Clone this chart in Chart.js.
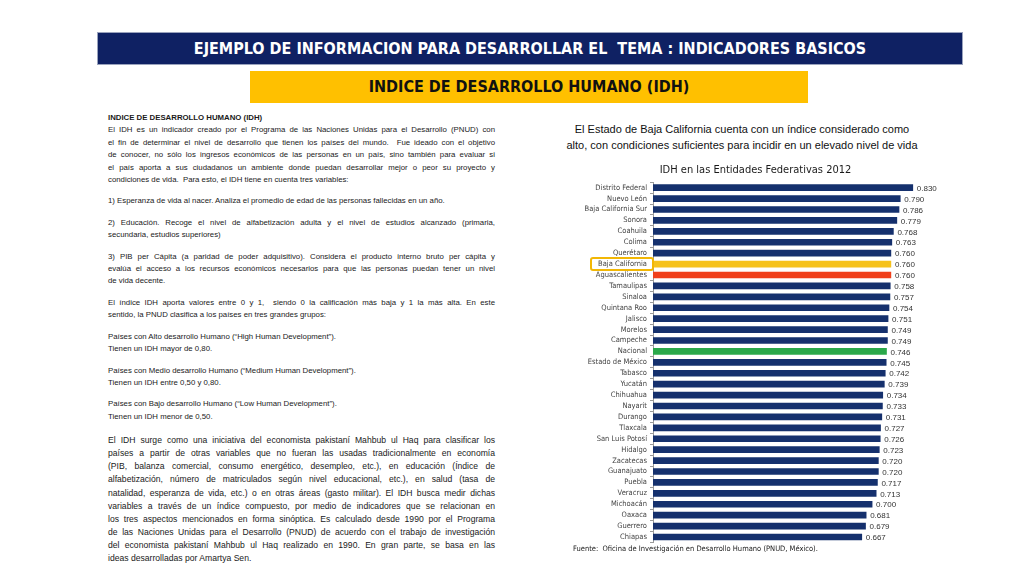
<!DOCTYPE html>
<html>
<head>
<meta charset="utf-8">
<script src="https://cdn.jsdelivr.net/npm/chart.js@4.4.1/dist/chart.umd.min.js"></script>
<style>
  body { margin:0; width:1024px; height:576px; background:#fff; position:relative; overflow:hidden;
         font-family:"Liberation Sans", Arial, sans-serif; color:#111; }
  .head { position:absolute; left:98px; top:33px; width:864px; height:31px; background:#0f2163;
          color:#fff; font:bold 16px "Liberation Sans Narrow","DejaVu Sans Condensed",sans-serif;
          text-align:center; line-height:31px; box-shadow:0 0 0 1px #9aa3bd; }
  .sub { position:absolute; left:250px; top:71px; width:558px; height:32px; background:#ffc000;
         color:#111; font:bold 16px "Liberation Sans Narrow","DejaVu Sans Condensed",sans-serif;
         text-align:center; line-height:32px; }
  #texto { position:absolute; left:108px; top:112px; width:387px; font-size:7.8px; line-height:12.4px; color:#1a1a1a; }
  #texto div { text-align:justify; text-align-last:justify; white-space:nowrap; }
  #texto div.end { text-align-last:left; }
  #texto .gap { height:9px; }
  #texto .gap2 { height:11px; }
  #texto .big { font-size:8.6px; line-height:13.1px; }
  .desc { position:absolute; left:540px; top:121px; width:404px; text-align:center;
          font-size:11px; line-height:16px; color:#111; }
  .fuente { position:absolute; left:573px; top:544px; font:7.5px "Liberation Sans Narrow","DejaVu Sans Condensed",sans-serif; color:#222; }
  #wrap { position:absolute; left:545px; top:160px; width:425px; height:390px; }
</style>
</head>
<body>
<div class="head">EJEMPLO DE INFORMACION PARA DESARROLLAR EL&nbsp; TEMA : INDICADORES BASICOS</div>
<div class="sub">INDICE DE DESARROLLO HUMANO (IDH)</div>

<div id="texto">
  <div class="end"><b>INDICE DE DESARROLLO HUMANO (IDH)</b></div>
  <div>El IDH es un indicador creado por el Programa de las Naciones Unidas para el Desarrollo (PNUD) con</div>
  <div>el fin de determinar el nivel de desarrollo que tienen los países del mundo.&nbsp; Fue ideado con el objetivo</div>
  <div>de conocer, no sólo los ingresos económicos de las personas en un país, sino también para evaluar si</div>
  <div>el país aporta a sus ciudadanos un ambiente donde puedan desarrollar mejor o peor su proyecto y</div>
  <div class="end">condiciones de vida.&nbsp; Para esto, el IDH tiene en cuenta tres variables:</div>
  <div class="gap"></div>
  <div class="end">1) Esperanza de vida al nacer. Analiza el promedio de edad de las personas fallecidas en un año.</div>
  <div class="gap"></div>
  <div>2) Educación. Recoge el nivel de alfabetización adulta y el nivel de estudios alcanzado (primaria,</div>
  <div class="end">secundaria, estudios superiores)</div>
  <div class="gap"></div>
  <div>3) PIB per Cápita (a paridad de poder adquisitivo). Considera el producto interno bruto per cápita y</div>
  <div>evalúa el acceso a los recursos económicos necesarios para que las personas puedan tener un nivel</div>
  <div class="end">de vida decente.</div>
  <div class="gap"></div>
  <div>El índice IDH aporta valores entre 0 y 1,&nbsp; siendo 0 la calificación más baja y 1 la más alta. En este</div>
  <div class="end">sentido, la PNUD clasifica a los países en tres grandes grupos:</div>
  <div class="gap"></div>
  <div class="end">Países con Alto desarrollo Humano (“High Human Development”).</div>
  <div class="end">Tienen un IDH mayor de 0,80.</div>
  <div class="gap"></div>
  <div class="end">Países con Medio desarrollo Humano (“Medium Human Development”).</div>
  <div class="end">Tienen un IDH entre 0,50 y 0,80.</div>
  <div class="gap"></div>
  <div class="end">Países con Bajo desarrollo Humano (“Low Human Development”).</div>
  <div class="end">Tienen un IDH menor de 0,50.</div>
  <div class="gap2"></div>
  <div class="big">El IDH surge como una iniciativa del economista pakistaní Mahbub ul Haq para clasificar los</div>
  <div class="big">países a partir de otras variables que no fueran las usadas tradicionalmente en economía</div>
  <div class="big">(PIB, balanza comercial, consumo energético, desempleo, etc.), en educación (Índice de</div>
  <div class="big">alfabetización, número de matriculados según nivel educacional, etc.), en salud (tasa de</div>
  <div class="big">natalidad, esperanza de vida, etc.) o en otras áreas (gasto militar). El IDH busca medir dichas</div>
  <div class="big">variables a través de un índice compuesto, por medio de indicadores que se relacionan en</div>
  <div class="big">los tres aspectos mencionados en forma sinóptica. Es calculado desde 1990 por el Programa</div>
  <div class="big">de las Naciones Unidas para el Desarrollo (PNUD) de acuerdo con el trabajo de investigación</div>
  <div class="big">del economista pakistaní Mahbub ul Haq realizado en 1990. En gran parte, se basa en las</div>
  <div class="big end">ideas desarrolladas por Amartya Sen.</div>
</div>

<div class="desc">El Estado de Baja California cuenta con un índice considerado como<br>alto, con condiciones suficientes para incidir en un elevado nivel de vida</div>

<div id="wrap"><canvas id="myChart"></canvas></div>
<div class="fuente">Fuente:&nbsp; Oficina de Investigación en Desarrollo Humano (PNUD, México).</div>

<script>
var estados = ['Distrito Federal','Nuevo León','Baja California Sur','Sonora','Coahuila','Colima','Querétaro',
    'Baja California','Aguascalientes','Tamaulipas','Sinaloa','Quintana Roo','Jalisco','Morelos','Campeche',
    'Nacional','Estado de México','Tabasco','Yucatán','Chihuahua','Nayarit','Durango','Tlaxcala',
    'San Luis Potosí','Hidalgo','Zacatecas','Guanajuato','Puebla','Veracruz','Michoacán','Oaxaca','Guerrero','Chiapas']
var idh = [0.830,0.790,0.786,0.779,0.768,0.763,0.760,0.760,0.760,0.758,0.757,0.754,0.751,0.749,0.749,
    0.746,0.745,0.742,0.739,0.734,0.733,0.731,0.727,0.726,0.723,0.720,0.720,0.717,0.713,0.700,0.681,0.679,0.667]
var destacado = 'Baja California'

var narrow = '"Liberation Sans Narrow", "DejaVu Sans Condensed", sans-serif'

var colores = estados.map(function(e){
    if (e == 'Baja California') return '#f6c21c'
    if (e == 'Aguascalientes') return '#f0401b'
    if (e == 'Nacional') return '#2aa84a'
    return '#15306d'
})

// etiquetas de valor al final de cada barra + recuadro del estado destacado
var valores = {
    id: 'valores',
    afterDatasetsDraw: function(chart){
        var ctx = chart.ctx
        var meta = chart.getDatasetMeta(0)
        ctx.save()
        ctx.font = '8px "Liberation Sans", Arial, sans-serif'
        ctx.fillStyle = '#333'
        ctx.textBaseline = 'middle'
        meta.data.forEach(function(bar, i){
            ctx.fillText(idh[i].toFixed(3), bar.x + 4, bar.y + 1)
        })
        var y = chart.scales.y.getPixelForValue(estados.indexOf(destacado))
        var left = chart.chartArea.left
        ctx.strokeStyle = '#f2b705'
        ctx.lineWidth = 2
        ctx.beginPath()
        ctx.roundRect(left - 62, y - 6, 62, 12, 2)
        ctx.stroke()
        ctx.restore()
    }
}

new Chart(document.getElementById('myChart'), {
    type: 'bar',
    data: {
        labels: estados,
        datasets: [{ data: idh, backgroundColor: colores, barThickness: 6 }]
    },
    options: {
        indexAxis: 'y',
        responsive: true,
        maintainAspectRatio: false,
        animation: false,
        layout: { padding: { right: 4, top: 0, bottom: 0 } },
        plugins: {
            legend: { display: false },
            tooltip: { enabled: false },
            title: {
                display: true,
                text: 'IDH en las Entidades Federativas 2012',
                color: '#1a1a1a',
                font: { family: narrow, size: 11, weight: 'normal' },
                padding: { top: 4, bottom: 5 }
            }
        },
        scales: {
            x: { display: false, min: 0, max: 1 },
            y: {
                afterFit: function(s){ s.width = 108 },
                border: { display: true, color: '#9a9a9a', width: 1 },
                grid: { drawOnChartArea: false, drawTicks: true, tickLength: 3, color: '#9a9a9a' },
                ticks: { color: '#444', padding: 3, autoSkip: false, font: { family: narrow, size: 7.5 } }
            }
        }
    },
    plugins: [valores]
})
</script>
</body>
</html>
